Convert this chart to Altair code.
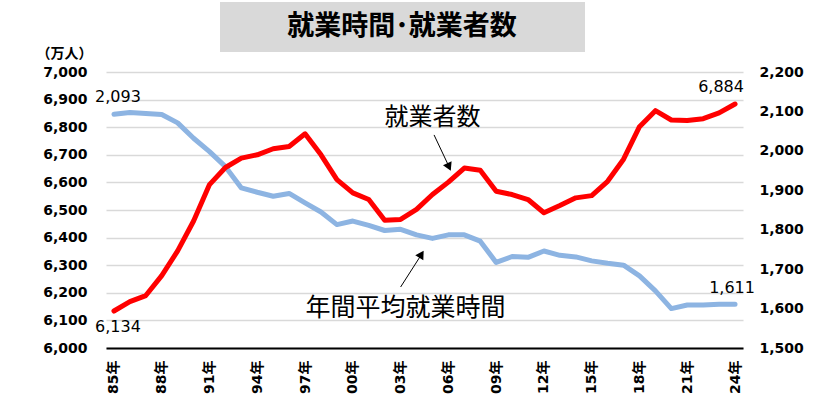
import altair as alt
import pandas as pd

years = [1985, 1986, 1987, 1988, 1989, 1990, 1991, 1992, 1993, 1994,
         1995, 1996, 1997, 1998, 1999, 2000, 2001, 2002, 2003, 2004,
         2005, 2006, 2007, 2008, 2009, 2010, 2011, 2012, 2013, 2014,
         2015, 2016, 2017, 2018, 2019, 2020, 2021, 2022, 2023, 2024]
employed = [6134, 6168, 6190, 6262, 6352, 6460, 6592, 6654, 6688, 6700,
            6722, 6730, 6776, 6700, 6610, 6562, 6538, 6463, 6466, 6502,
            6556, 6601, 6652, 6644, 6568, 6556, 6538, 6490, 6516, 6544,
            6552, 6604, 6684, 6802, 6860, 6826, 6824, 6831, 6852, 6884]
hours = [2093, 2097, 2095, 2092, 2071, 2032, 1998, 1960, 1906, 1895,
         1885, 1892, 1868, 1845, 1813, 1822, 1811, 1798, 1801, 1787,
         1778, 1787, 1787, 1771, 1717, 1732, 1730, 1746, 1735, 1731,
         1721, 1715, 1710, 1683, 1645, 1600, 1609, 1609, 1611, 1611]
tick_years = [1985, 1988, 1991, 1994, 1997, 2000, 2003, 2006, 2009, 2012,
              2015, 2018, 2021, 2024]
left_ticks = [6000, 6100, 6200, 6300, 6400, 6500, 6600, 6700, 6800, 6900, 7000]
right_ticks = [1500, 1600, 1700, 1800, 1900, 2000, 2100, 2200]

title_text = "就業時間･就業者数"
unit_text = "（万人）"
employed_name = "就業者数"
hours_name = "年間平均就業時間"

# end-point value labels
emp_first = pd.DataFrame({"year": [1985], "employed": [6134], "label": ["6,134"]})
emp_last = pd.DataFrame({"year": [2024], "employed": [6884], "label": ["6,884"]})
hrs_first = pd.DataFrame({"year": [1985], "hours": [2093], "label": ["2,093"]})
hrs_last = pd.DataFrame({"year": [2024], "hours": [1611], "label": ["1,611"]})
# series name labels placed in left-axis data coordinates
name_emp = pd.DataFrame({"year": [2005.0], "employed": [6833], "label": [employed_name]})
name_hrs = pd.DataFrame({"year": [2003.3], "employed": [6145], "label": [hours_name]})
# arrows in left-axis data coordinates
arrows = pd.DataFrame({"year": [2005.1, 2003.0], "employed": [6772, 6221],
                       "year2": [2006.0, 2004.3], "employed2": [6662, 6338]})
heads = pd.DataFrame({"year": [2006.04, 2004.31], "employed": [6656, 6340],
                      "shape": ["triangle-down", "triangle-up"], "ang": [335, 32]})

df = pd.DataFrame({"year": years, "employed": employed, "hours": hours})

num_font = "DejaVu Sans"
jp_font = "Noto Sans CJK JP"

x_axis = alt.Axis(values=tick_years, labelExpr="slice(toString(datum.value), 2) + '年'",
                  labelAngle=270, labelAlign="right", labelBaseline="middle",
                  labelFont=num_font + ", " + jp_font, labelFontWeight="bold", labelFontSize=14,
                  labelColor="black", domainColor="black", domainWidth=2, ticks=False,
                  grid=False, labelPadding=12, labelFlush=False, title=None)
x_scale = alt.Scale(domain=[1984.5, 2024.5], nice=False, zero=False)


def X(field="year"):
    return alt.X(f"{field}:Q", scale=x_scale, axis=x_axis)


left_scale = alt.Scale(domain=[6000, 7000], nice=False, zero=False)
left_axis = alt.Axis(values=left_ticks, labelExpr="format(datum.value, ',')",
                     domain=False, ticks=False,
                     labelPadding=19, grid=True, gridColor="#d9d9d9", gridWidth=1.5,
                     title=unit_text, titleAngle=0, titleX=-70, titleY=-19, titleAlign="left",
                     titleBaseline="middle", titleFont=jp_font, titleFontSize=14,
                     titleFontWeight="bold", titleColor="black")


def YL(field="employed"):
    return alt.Y(f"{field}:Q", scale=left_scale, axis=left_axis)


right_scale = alt.Scale(domain=[1500, 2200], nice=False, zero=False)
right_axis = alt.Axis(orient="right", values=right_ticks, labelExpr="format(datum.value, ',')",
                      domain=False, ticks=False, labelPadding=16, grid=False, title=None)


def YR(field="hours"):
    return alt.Y(f"{field}:Q", scale=right_scale, axis=right_axis)


one = alt.Data(values=[{"a": 1}])

title_box = alt.Chart(one).mark_rect(color="#d9d9d9").encode(
    x=alt.value(114), x2=alt.value(479), y=alt.value(-70), y2=alt.value(-20))
title_mark = alt.Chart(one).mark_text(font=jp_font, fontSize=27, fontWeight="bold",
                                      color="black", align="center", baseline="middle").encode(
    x=alt.value(296), y=alt.value(-45), text=alt.value(title_text))


def val_text(data, y, dx, dy):
    return alt.Chart(data).mark_text(font=num_font, fontSize=16, color="black",
                                     align="center", baseline="middle", dx=dx, dy=dy).encode(
        x=X(), y=y, text="label:N")


red_line = alt.Chart(df).mark_line(color="#ff0000", strokeWidth=5, strokeJoin="round",
                                   strokeCap="round").encode(x=X(), y=YL())
name1 = alt.Chart(name_emp).mark_text(font=jp_font, fontSize=24, color="black",
                                      align="center", baseline="middle").encode(
    x=X(), y=YL(), text="label:N")
name2 = alt.Chart(name_hrs).mark_text(font=jp_font, fontSize=25, color="black",
                                      align="center", baseline="middle").encode(
    x=X(), y=YL(), text="label:N")
arrow_lines = alt.Chart(arrows).mark_rule(color="black", strokeWidth=1).encode(
    x=X(), y=YL(), x2="year2:Q", y2="employed2:Q")
arrow_heads = alt.Chart(heads).mark_point(filled=True, color="black", size=90, opacity=1).encode(
    x=X(), y=YL(), shape=alt.Shape("shape:N", scale=None, legend=None),
    angle=alt.Angle("ang:Q", scale=None))

left = alt.layer(title_box, title_mark, red_line,
                 val_text(emp_first, YL(), 4, 16), val_text(emp_last, YL(), -14, -17),
                 name1, name2, arrow_lines, arrow_heads)

blue_line = alt.Chart(df).mark_line(color="#8db4e2", strokeWidth=5, strokeJoin="round",
                                    strokeCap="round").encode(x=X(), y=YR())
right = alt.layer(blue_line, val_text(hrs_first, YR(), 4, -17), val_text(hrs_last, YR(), -3, -16))

chart = alt.layer(right, left).resolve_scale(y="independent").properties(
    width=637, height=276, autosize="none",
    padding={"left": 106, "top": 72, "right": 78, "bottom": 59},
    background="white"
).configure_view(stroke=None).configure_axisLeft(
    labelFont=num_font, labelFontWeight="bold", labelFontSize=14, labelColor="black"
).configure_axisRight(
    labelFont=num_font, labelFontWeight="bold", labelFontSize=14, labelColor="black"
)

chart.save("out.html", embed_options={"renderer": "svg", "actions": False})
